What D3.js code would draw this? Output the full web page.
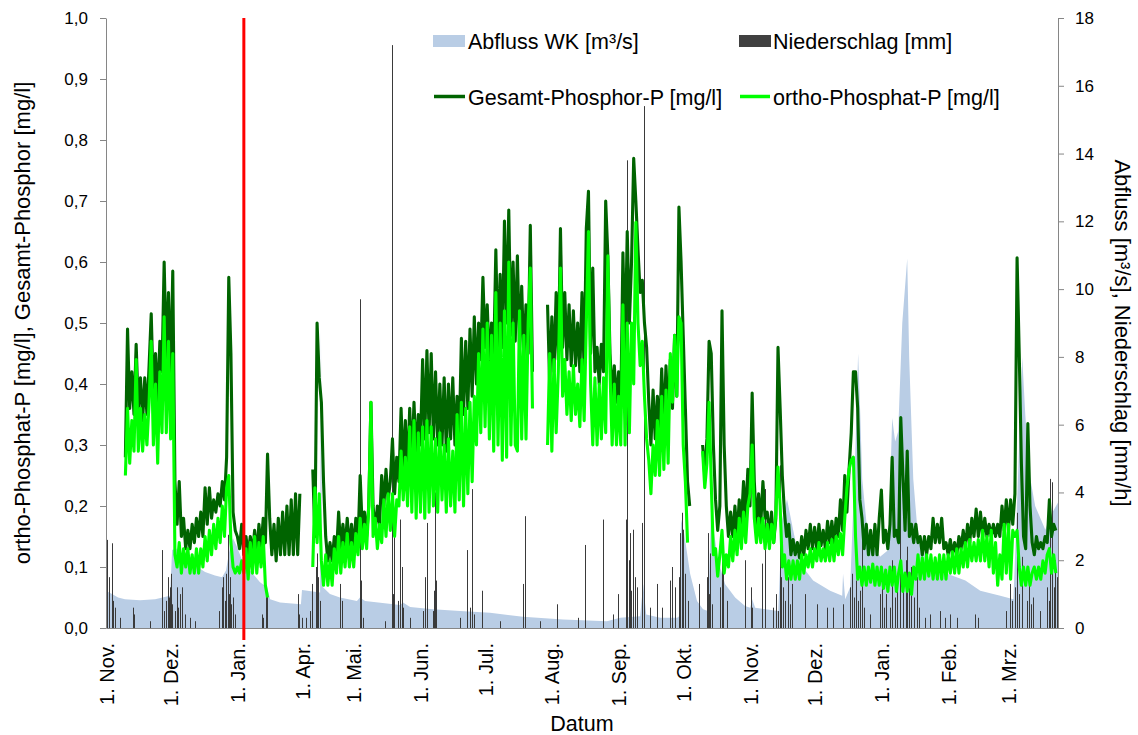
<!DOCTYPE html>
<html>
<head>
<meta charset="utf-8">
<script src="https://cdn.jsdelivr.net/npm/d3@7"></script>
<style>
  html, body { margin: 0; padding: 0; background: #fff; }
  svg { display: block; font-family: "Liberation Sans", Arial, Helvetica, sans-serif; }
</style>
</head>
<body>
<svg id="chart" width="1138" height="735"></svg>
<script>
// ---------------------------------------------------------------------------
// Measurement data. Two campaigns: winter (from 1 Nov 2015) and the main run
// (from 7 Apr 2016). Offsets are in days from the campaign start date.
// ---------------------------------------------------------------------------

// Gesamt-Phosphor-P [mg/l], daily values
const gpWinterStartDay = 9;   // 10 Nov 2015
const gpWinter = [
  0.28,0.49,0.36,0.42,0.35,0.465,0.36,0.41,0.34,0.41,
  0.35,0.43,0.515,0.38,0.45,0.37,0.47,0.42,0.60,0.44,
  0.55,0.40,0.585,0.24,0.17,0.24,0.15,0.18,0.13,0.16,
  0.13,0.17,0.14,0.18,0.15,0.19,0.15,0.23,0.17,0.23,
  0.18,0.21,0.19,0.22,0.20,0.24,0.21,0.28,0.575,0.45,
  0.19,0.16,0.15,0.13,0.17,0.12,0.15,0.12,0.15,0.12,
  0.16,0.12,0.17,0.13,0.18,0.14,0.285,0.18,0.12,0.17,
  0.11,0.18,0.12,0.19,0.12,0.20,0.12,0.21,0.12,0.22,
  0.12,0.22
];
const gpMainStartDay = 5;     // 12 Apr 2016
const gpMain = [
  0.26,0.15,0.50,0.41,0.37,0.24,0.15,0.11,0.14,0.11,
  0.15,0.12,0.19,0.13,0.17,0.13,0.18,0.13,0.17,0.13,
  0.18,0.14,0.25,0.16,0.19,0.15,0.20,0.37,0.20,0.16,
  0.20,0.17,0.25,0.20,0.26,0.21,0.24,0.31,0.22,0.28,
  0.24,0.36,0.26,0.34,0.25,0.36,0.27,0.37,0.28,0.35,
  0.30,0.44,0.31,0.455,0.32,0.45,0.31,0.42,0.30,0.40,
  0.30,0.41,0.29,0.40,0.31,0.41,0.30,0.38,0.31,0.475,
  0.35,0.47,0.36,0.49,0.38,0.51,0.40,0.50,0.44,0.575,
  0.46,0.53,0.43,0.50,0.44,0.62,0.45,0.58,0.46,0.667,
  0.50,0.685,0.48,0.60,0.47,0.61,0.46,0.56,0.44,0.53,
  0.45,0.66,0.42,null,null,null,null,null,null,0.53,
  0.40,0.51,0.42,0.55,0.44,0.655,0.46,0.55,0.44,0.53,
  0.43,0.52,0.43,0.50,0.42,0.55,0.42,0.655,0.716,0.45,
  0.59,0.42,0.46,0.40,0.465,0.42,0.70,0.61,0.45,0.38,
  0.43,0.37,0.42,0.36,0.615,0.45,0.65,0.50,0.60,0.77,
  0.70,0.62,0.55,0.57,0.50,0.46,0.37,0.30,0.39,0.31,
  0.38,0.32,0.425,0.33,0.43,0.34,0.44,0.36,0.48,0.38,
  0.69,0.60,0.48,0.36,0.24,0.20,null,null,null,null,
  null,0.30,0.25,0.31,0.47,0.45,0.30,0.21,0.16,0.20,
  0.52,0.30,0.20,0.15,0.19,0.15,0.20,0.15,0.21,0.17,
  0.24,0.18,0.26,0.20,0.385,0.24,0.17,0.22,0.17,0.24,
  0.18,0.19,0.15,0.19,0.14,0.18,0.46,0.36,0.25,0.19,
  0.15,0.17,0.12,0.145,0.12,0.14,0.115,0.15,0.12,0.16,
  0.13,0.17,0.13,0.165,0.13,0.17,0.135,0.16,0.13,0.175,
  0.14,0.175,0.14,0.18,0.15,0.21,0.16,0.25,0.19,0.26,
  0.32,0.42,0.42,0.36,0.21,0.18,0.13,0.17,0.12,0.16,
  0.12,0.17,0.12,0.18,0.226,0.14,0.16,0.13,0.17,0.28,
  0.15,0.16,0.14,0.345,0.25,0.16,0.29,0.15,0.17,0.14,
  0.17,0.14,0.15,0.12,0.15,0.12,0.15,0.13,0.18,0.14,
  0.17,0.14,0.18,0.13,0.14,0.12,0.145,0.12,0.14,0.12,
  0.15,0.13,0.16,0.13,0.17,0.14,0.18,0.15,0.195,0.15,
  0.19,0.15,0.18,0.15,0.17,0.15,0.17,0.15,0.17,0.15,
  0.20,0.16,0.21,0.16,0.21,0.17,0.22,0.607,0.45,0.27,
  0.15,0.13,0.335,0.20,0.14,0.12,0.15,0.13,0.14,0.13,
  0.15,0.14,0.21,0.15,0.17,0.16
];

// ortho-Phosphat-P [mg/l], daily values
const opWinterStartDay = 9;   // 10 Nov 2015
const opWinter = [
  0.25,0.36,0.27,0.34,0.29,0.44,0.29,0.36,0.29,0.35,
  0.30,0.37,0.47,0.30,0.40,0.27,0.42,0.32,0.51,0.32,
  0.47,0.31,0.45,0.12,0.10,0.14,0.09,0.13,0.10,0.13,
  0.09,0.12,0.09,0.13,0.09,0.13,0.10,0.15,0.11,0.16,
  0.12,0.17,0.13,0.18,0.14,0.20,0.15,0.23,0.25,0.14,
  0.10,0.09,0.10,0.09,0.11,0.09,0.13,0.08,0.14,0.09,
  0.15,0.09,0.14,0.10,0.15,0.07,0.05
];
const opMainStartDay = 5;     // 12 Apr 2016
const opMain = [
  0.10,0.23,0.14,0.22,0.11,0.07,0.12,0.07,0.11,0.07,
  0.13,0.09,0.15,0.09,0.14,0.10,0.155,0.10,0.14,0.10,
  0.155,0.12,0.18,0.13,0.17,0.13,0.20,0.37,0.15,0.18,
  0.13,0.17,0.14,0.21,0.15,0.22,0.16,0.22,0.15,0.21,
  0.20,0.29,0.21,0.28,0.20,0.33,0.19,0.34,0.18,0.32,
  0.19,0.33,0.18,0.34,0.19,0.33,0.20,0.31,0.19,0.32,
  0.21,0.30,0.19,0.31,0.20,0.29,0.19,0.35,0.21,0.37,
  0.20,0.36,0.22,0.37,0.24,0.38,0.30,0.45,0.32,0.49,
  0.33,0.50,0.31,0.48,0.29,0.55,0.30,0.50,0.275,0.52,
  0.28,0.60,0.30,0.50,0.30,0.29,0.52,0.31,0.48,0.31,
  0.50,0.59,0.36,null,null,null,null,null,null,0.30,
  0.45,0.29,0.44,0.32,0.42,0.59,0.38,0.44,0.35,0.42,
  0.34,0.43,0.35,0.40,0.33,0.44,0.34,0.50,0.65,0.40,
  0.30,0.41,0.30,0.40,0.31,0.41,0.32,0.61,0.42,0.30,
  0.40,0.30,0.38,0.30,0.53,0.30,0.50,0.32,0.50,0.40,
  0.665,0.50,0.43,0.47,0.38,0.31,0.275,0.22,0.30,0.25,
  0.34,0.25,0.38,0.26,0.39,0.27,0.45,0.37,0.48,0.38,
  0.51,0.50,0.30,0.24,0.14,null,null,null,null,null,
  null,0.29,0.23,0.27,0.37,0.24,0.12,0.13,0.085,0.12,
  0.16,0.09,0.12,0.10,0.15,0.11,0.16,0.12,0.18,0.13,
  0.19,0.14,0.20,0.22,0.30,0.18,0.14,0.18,0.14,0.18,
  0.13,0.17,0.13,0.17,0.14,0.19,0.264,0.20,0.10,0.12,
  0.08,0.11,0.08,0.11,0.08,0.11,0.08,0.12,0.09,0.12,
  0.10,0.13,0.10,0.13,0.11,0.14,0.11,0.13,0.11,0.14,
  0.11,0.145,0.11,0.15,0.12,0.155,0.12,0.18,0.23,0.26,
  0.275,0.28,0.15,0.08,0.10,0.07,0.10,0.07,0.10,0.075,
  0.105,0.07,0.10,0.07,0.10,0.065,0.095,0.06,0.10,0.07,
  0.10,0.06,0.09,0.11,0.06,0.09,0.06,0.09,0.055,0.10,
  0.08,0.12,0.08,0.115,0.08,0.12,0.085,0.12,0.08,0.115,
  0.08,0.12,0.08,0.12,0.08,0.12,0.09,0.125,0.09,0.13,
  0.09,0.13,0.10,0.14,0.10,0.145,0.11,0.14,0.11,0.145,
  0.11,0.16,0.11,0.15,0.10,0.16,0.09,0.14,0.07,0.12,
  0.08,0.17,0.09,0.17,0.08,0.16,0.15,0.16,0.10,0.07,
  0.10,0.07,0.10,0.07,0.09,0.10,0.08,0.10,0.08,0.11,
  0.09,0.12,0.13,0.09,0.12,0.09
];

// Abfluss WK [m³/s]: [day offset, value]
const flowWinter = [
  [0,1.1],[2.8,1.0],[5.6,0.9],[8.8,0.85],[15.8,0.82],[22.8,0.85],[29.7,0.95],
  [30.7,2.3],[32.5,2.35],[36.7,2.05],[41.3,1.85],[46.0,1.65],[50.6,1.55],
  [53.9,1.5],[55.7,1.7],[57.6,2.4],[59.0,2.65],[60.8,2.4],[63.2,2.0],
  [66.9,1.7],[71.5,1.35],[74.8,1.2],[76.2,0.85],[80.8,0.75],[90.5,0.7]
];
const flowMain = [
  [0,1.12],[8.4,1.05],[8.8,8.8],[9.3,1.3],[9.75,1.2],[13.0,1.0],[17.6,0.9],
  [25.5,0.8],[26.9,0.9],[29.3,0.8],[45.5,0.68],[46.9,0.75],[50.2,0.62],
  [60.8,0.55],[73.4,0.5],[87.3,0.45],[102.6,0.33],[121.2,0.25],[141.6,0.2],
  [147.7,0.3],[157.0,0.35],[158.4,1.3],[159.8,0.4],[166.3,0.3],[174.2,0.3],
  [175.1,0.35],[176.0,3.2],[177.4,2.8],[180.2,1.6],[183.4,0.8],[186.2,0.55],
  [188.5,0.5],[189.9,3.4],[193.2,2.0],[196.4,1.3],[201.1,0.9],[205.7,0.65],
  [208.1,0.6],[209.0,0.85],[210.4,0.6],[221.1,0.5],[222.9,3.2],[225.2,3.8],
  [228.0,2.9],[231.3,1.9],[237.3,1.4],[245.2,1.1],[250.8,0.95],[251.2,1.6],
  [252.2,0.85],[254.5,1.2],[256.8,5.0],[258.2,8.1],[259.2,6.3],[260.1,4.4],
  [262.4,2.9],[265.2,2.4],[268.4,2.1],[272.2,2.3],[274.0,6.2],[275.4,5.5],
  [276.8,5.8],[278.7,9.0],[281.0,10.9],[281.9,8.0],[283.8,4.4],[285.6,3.0],
  [287.0,2.4],[293.1,1.8],[299.6,1.6],[308.0,1.4],[314.9,1.1],[324.2,0.95],
  [330.3,0.85],[331.6,3.0],[334.4,8.0],[335.8,6.3],[337.6,4.6],[340.4,3.6],
  [345.1,2.9],[348.3,3.4],[351.0,3.7]
];

// Niederschlag [mm/h]: [day offset, value]
const rainWinter = [
  [0.5,2.6],[1.4,1.5],[2.8,2.5],[3.3,0.8],[4.2,0.6],[6.5,0.3],[12.5,0.6],[13.0,0.4],
  [20.4,0.2],[26.0,2.3],[26.9,0.5],[27.9,0.8],[28.8,1.5],[29.3,0.9],[29.7,1.2],
  [30.2,1.6],[30.7,0.7],[32.0,0.5],[33.0,1.2],[33.4,0.6],[34.4,1.0],[35.3,1.2],
  [36.7,0.4],[39.0,0.3],[41.3,0.2],[52.5,0.5],[53.9,1.2],[54.3,1.5],[55.3,0.8],
  [55.7,1.6],[56.7,2.75],[57.1,1.0],[57.6,1.5],[58.0,0.7],[59.0,0.9],[59.9,0.4],
  [72.4,0.4],[72.9,0.3],[74.3,1.0],[74.8,1.1],[89.2,1.0],[89.6,0.4]
];
const rainMain = [
  [0.0,0.3],[1.9,0.3],[3.7,0.5],[4.6,1.3],[6.5,1.8],[7.0,2.2],[7.4,1.5],[8.4,0.8],
  [17.6,1.3],[18.6,0.8],[26.9,9.7],[27.4,1.4],[28.3,0.3],[38.5,0.2],[41.8,17.2],
  [42.3,1.0],[42.7,2.7],[44.6,0.8],[45.5,3.2],[46.4,1.8],[46.9,0.6],[50.2,0.3],
  [56.2,0.5],[57.1,1.5],[58.0,3.1],[60.8,0.5],[61.3,1.1],[61.8,4.0],[62.2,1.4],
  [73.4,0.3],[76.6,2.3],[78.0,0.6],[78.9,4.1],[79.9,0.4],[83.6,1.1],[92.0,0.2],
  [102.6,1.3],[103.6,3.3],[110.6,0.2],[118.4,0.7],[128.2,0.3],[131.4,2.45],
  [139.8,3.2],[144.4,0.4],[146.7,1.0],[150.3,3.2],[151.1,13.8],[151.9,2.0],
  [152.3,2.8],[152.8,1.1],[153.6,2.9],[154.6,1.5],[155.6,1.2],[158.0,3.1],
  [159.0,15.4],[161.6,0.6],[164.9,1.3],[167.2,0.6],[170.9,1.4],[171.8,1.8],
  [173.2,1.2],[175.1,1.5],[175.5,2.8],[176.3,3.4],[176.9,2.9],[177.8,1.6],
  [179.2,0.8],[184.3,1.3],[188.0,1.5],[188.5,2.8],[188.9,1.0],[189.4,2.2],
  [190.3,0.7],[194.0,1.2],[195.0,2.8],[195.4,1.6],[197.3,0.8],[205.7,2.0],
  [208.5,1.2],[209.0,0.6],[213.6,1.9],[215.0,4.1],[218.7,0.6],[220.1,1.0],
  [221.1,0.5],[222.0,4.8],[222.5,1.5],[223.4,1.2],[224.4,0.8],[225.8,1.5],
  [226.7,0.7],[227.6,1.3],[233.6,1.0],[239.2,0.7],[243.8,0.6],[246.6,0.6],
  [251.2,0.7],[254.5,1.2],[255.4,1.6],[256.3,0.9],[257.3,1.4],[258.2,0.8],
  [259.2,1.1],[260.1,2.6],[261.0,0.6],[263.8,0.4],[268.4,1.0],[269.4,1.3],
  [270.3,0.6],[271.2,1.0],[273.1,0.6],[274.0,2.0],[275.4,0.9],[276.3,1.5],
  [277.7,6.2],[279.1,1.2],[280.5,2.0],[281.0,2.4],[281.9,1.2],[282.9,1.8],
  [284.3,0.9],[285.6,1.5],[286.6,0.6],[289.4,0.3],[291.7,0.4],[296.3,0.5],
  [298.6,0.3],[300.9,0.4],[304.2,0.3],[312.5,0.4],[313.9,0.3],[326.9,0.5],
  [328.8,1.3],[329.7,0.8],[331.1,1.2],[332.1,3.4],[333.0,1.0],[334.4,2.1],
  [336.7,0.8],[337.6,1.5],[338.6,0.7],[339.5,0.9],[342.8,0.5],[346.0,1.2],
  [346.9,0.8],[347.4,4.4],[348.3,4.3],[349.3,1.2],[349.7,2.0],[350.6,1.5]
];

// Axis ticks
const leftTicks  = [0,0.1,0.2,0.3,0.4,0.5,0.6,0.7,0.8,0.9,1.0];
const rightTicks = [0,2,4,6,8,10,12,14,16,18];
const xTickDates = ["2015-11-01","2015-12-01","2016-01-01","2016-04-01","2016-05-01",
  "2016-06-01","2016-07-01","2016-08-01","2016-09-01","2016-10-01","2016-11-01",
  "2016-12-01","2017-01-01","2017-02-01","2017-03-01"];
const xTickLabels = ["1. Nov.","1. Dez.","1. Jan.","1. Apr.","1. Mai.","1. Jun.",
  "1. Jul.","1. Aug.","1. Sep.","1. Okt.","1. Nov.","1. Dez.","1. Jan.","1. Feb.","1. Mrz."];
const markerDate = "2016-01-04";

// ---------------------------------------------------------------------------
const DAY = 864e5;
const winterBase = new Date(Date.UTC(2015, 10, 1));
const mainBase   = new Date(Date.UTC(2016, 3, 7));
const atWinter = n => new Date(winterBase.getTime() + n * DAY);
const atMain   = n => new Date(mainBase.getTime() + n * DAY);
const parse = s => new Date(s + "T00:00:00Z");

const L = 106, R = 1058, T = 18, B = 628;
const winterSpan = 91, mainSpan = 351;
const k = (R - L) / (winterSpan + mainSpan);

// broken time axis: the pause between the campaigns is collapsed
const x = d3.scaleUtc()
  .domain([winterBase, atWinter(winterSpan), mainBase, atMain(mainSpan)])
  .range([L, L + winterSpan * k, L + winterSpan * k, R]);
const yL = d3.scaleLinear().domain([0, 1]).range([B, T]);
const yR = d3.scaleLinear().domain([0, 18]).range([B, T]);

const svg = d3.select("#chart");
const axisColor = "#868686";

// series
const seq = (arr, start, at) => arr.map((v, i) => ({ t: at(start + i), v }));
const gpSeries = seq(gpWinter, gpWinterStartDay, atWinter)
  .concat([{ t: mainBase, v: null }], seq(gpMain, gpMainStartDay, atMain));
const opSeries = seq(opWinter, opWinterStartDay, atWinter)
  .concat([{ t: mainBase, v: null }], seq(opMain, opMainStartDay, atMain));
const flowSeries = flowWinter.map(([d, v]) => ({ t: atWinter(d), v }))
  .concat(flowMain.map(([d, v]) => ({ t: atMain(d), v })));
const rainSeries = rainWinter.map(([d, v]) => ({ t: atWinter(d), v }))
  .concat(rainMain.map(([d, v]) => ({ t: atMain(d), v })));

// Abfluss area
svg.append("path")
  .datum(flowSeries)
  .attr("fill", "#b9cde5")
  .attr("d", d3.area().x(d => x(d.t)).y0(yR(0)).y1(d => yR(d.v)));

// Niederschlag bars
svg.append("g").selectAll("rect")
  .data(rainSeries)
  .join("rect")
  .attr("x", d => Math.round(x(d.t)))
  .attr("width", 1)
  .attr("y", d => yR(d.v))
  .attr("height", d => yR(0) - yR(d.v))
  .attr("fill", "#3a3a3a");

// phosphorus lines
const line = d3.line().defined(d => d.v != null).x(d => x(d.t)).y(d => yL(d.v));
svg.append("path").datum(gpSeries)
  .attr("fill", "none").attr("stroke", "#006400").attr("stroke-width", 3.1)
  .attr("stroke-linejoin", "round").attr("d", line);
svg.append("path").datum(opSeries)
  .attr("fill", "none").attr("stroke", "#00ff00").attr("stroke-width", 3.1)
  .attr("stroke-linejoin", "round").attr("d", line);

// axes
const fmtL = d => d3.format(".1f")(d).replace(".", ",");
const gL = svg.append("g").attr("transform", `translate(${L},0)`)
  .call(d3.axisLeft(yL).tickValues(leftTicks).tickFormat(fmtL).tickSize(6).tickPadding(12).tickSizeOuter(0));
const gR = svg.append("g").attr("transform", `translate(${R},0)`)
  .call(d3.axisRight(yR).tickValues(rightTicks).tickFormat(d3.format("d")).tickSize(6).tickPadding(11).tickSizeOuter(0));
const tickDates = xTickDates.map(parse);
const gX = svg.append("g").attr("transform", `translate(0,${B})`)
  .call(d3.axisBottom(x).tickValues(tickDates)
    .tickFormat((d, i) => xTickLabels[i]).tickSize(0).tickSizeOuter(0));
gX.selectAll("text")
  .attr("transform", "rotate(-90)")
  .attr("text-anchor", "end")
  .attr("x", -15).attr("y", 0).attr("dy", "0.35em")
  .style("font-size", "20px");

[gL, gR, gX].forEach(g => {
  g.select(".domain").attr("stroke", axisColor);
  g.selectAll(".tick line").attr("stroke", axisColor);
  g.selectAll("text").attr("fill", "#000").style("font-family", "'Liberation Sans', Arial, sans-serif");
});
gL.selectAll("text").style("font-size", "17px");
gR.selectAll("text").style("font-size", "17px");

// marker line
svg.append("line")
  .attr("x1", x(parse(markerDate))).attr("x2", x(parse(markerDate)))
  .attr("y1", T).attr("y2", 640)
  .attr("stroke", "#ff0000").attr("stroke-width", 3);

// axis titles
svg.append("text")
  .attr("transform", `translate(22,${(T + B) / 2}) rotate(-90)`)
  .attr("text-anchor", "middle").attr("dy", "0.35em")
  .style("font-size", "22px")
  .text("ortho-Phosphat-P [mg/l], Gesamt-Phosphor [mg/l]");
svg.append("text")
  .attr("transform", `translate(1123,333) rotate(90)`)
  .attr("text-anchor", "middle").attr("dy", "0.35em")
  .style("font-size", "22px")
  .text("Abfluss [m³/s], Niederschlag [mm/h]");
svg.append("text")
  .attr("x", (L + R) / 2).attr("y", 731)
  .attr("text-anchor", "middle")
  .style("font-size", "21.5px")
  .text("Datum");

// legend
const legend = svg.append("g").style("font-size", "21.5px");
legend.append("rect").attr("x", 433).attr("y", 35).attr("width", 32).attr("height", 12).attr("fill", "#b9cde5");
legend.append("text").attr("x", 468).attr("y", 49).text("Abfluss WK [m³/s]");
legend.append("rect").attr("x", 739).attr("y", 35).attr("width", 32).attr("height", 12).attr("fill", "#404040");
legend.append("text").attr("x", 773).attr("y", 49).text("Niederschlag [mm]");
legend.append("line").attr("x1", 434).attr("x2", 465).attr("y1", 96.5).attr("y2", 96.5)
  .attr("stroke", "#006400").attr("stroke-width", 3.5);
legend.append("text").attr("x", 468).attr("y", 104.5).text("Gesamt-Phosphor-P [mg/l]");
legend.append("line").attr("x1", 740).attr("x2", 770).attr("y1", 96.5).attr("y2", 96.5)
  .attr("stroke", "#00ff00").attr("stroke-width", 3.5);
legend.append("text").attr("x", 773).attr("y", 104.5).text("ortho-Phosphat-P [mg/l]");
</script>
</body>
</html>
